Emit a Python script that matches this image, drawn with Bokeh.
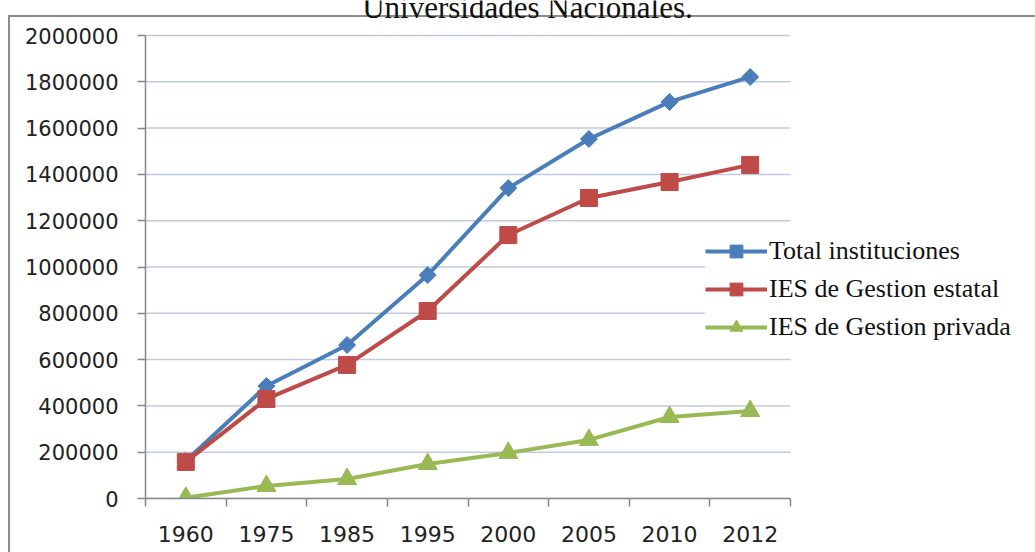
from bokeh.plotting import figure
from bokeh.models import FixedTicker, Legend, LegendItem, Range1d, Label
from bokeh.embed import file_html
from bokeh.resources import INLINE
import math

title_text = "Universidades Nacionales."
years = ["1960", "1975", "1985", "1995", "2000", "2005", "2010", "2012"]
total = [162000, 486000, 663000, 965000, 1341000, 1553000, 1713000, 1821000]
estatal = [158000, 430000, 577000, 810000, 1138000, 1298000, 1367000, 1441000]
privada = [3000, 54000, 84000, 149000, 197000, 253000, 352000, 378000]
y_ticks = [0, 200000, 400000, 600000, 800000, 1000000, 1200000, 1400000, 1600000, 1800000, 2000000]
series_names = ["Total instituciones", "IES de Gestion estatal", "IES de Gestion privada"]

# layout (pixels)
W, H = 1035, 552
left, bottom_pad = 145, 54
frame_w, frame_h = W - left, H - bottom_pad
plot_w, plot_top = 645, 35          # width of category area, top gridline position
y_max = max(y_ticks)
n = len(years)

xs = [i + 0.5 for i in range(n)]

p = figure(width=W, height=H, output_backend="svg", toolbar_location=None,
           x_range=Range1d(0, n * frame_w / plot_w),
           y_range=Range1d(0, y_max * frame_h / (frame_h - plot_top)),
           min_border_left=left, min_border_right=0, min_border_top=0, min_border_bottom=bottom_pad)
p.outline_line_color = None
p.background_fill_color = None
p.border_fill_color = None
p.styles = {
    "background-image": "linear-gradient(#8C8C8C, #8C8C8C), linear-gradient(#8C8C8C, #8C8C8C)",
    "background-size": "2px 100%, 100% 2px",
    "background-position": "8px 15px, 8px 15px",
    "background-repeat": "no-repeat",
}

# x axis
p.xaxis.bounds = (0, n)
p.xaxis.ticker = FixedTicker(ticks=xs, minor_ticks=list(range(n + 1)))
p.xaxis.major_label_overrides = {x: y for x, y in zip(xs, years)}
p.xaxis.major_tick_out = 0
p.xaxis.major_tick_in = 0
p.xaxis.minor_tick_out = 8
p.xaxis.minor_tick_in = 0
p.xaxis.minor_tick_line_color = "#868686"
p.xaxis.minor_tick_line_width = 1.5
p.xaxis.axis_line_color = "#868686"
p.xaxis.axis_line_width = 1.5
p.xaxis.major_label_text_font = "DejaVu Sans"
p.xaxis.major_label_text_font_size = "22px"
p.xaxis.major_label_text_color = "#222222"
p.xaxis.major_label_standoff = 19
p.xgrid.grid_line_color = None
p.ygrid.grid_line_color = None

# y axis
p.yaxis.bounds = (0, y_max)
p.yaxis.ticker = FixedTicker(ticks=y_ticks)
p.yaxis.major_label_overrides = {t: str(t) for t in y_ticks}
p.yaxis.major_tick_out = 8
p.yaxis.major_tick_in = 0
p.yaxis.minor_tick_line_color = None
p.yaxis.major_tick_line_color = "#868686"
p.yaxis.major_tick_line_width = 1.5
p.yaxis.axis_line_color = "#868686"
p.yaxis.axis_line_width = 1.5
p.yaxis.major_label_text_font = "DejaVu Sans"
p.yaxis.major_label_text_font_size = "21px"
p.yaxis.major_label_text_color = "#222222"
p.yaxis.major_label_standoff = 19

# horizontal gridlines limited to category area
p.segment(x0=[0] * len(y_ticks), x1=[n] * len(y_ticks), y0=y_ticks, y1=y_ticks,
          line_color="#C0CAE4", line_width=1.5, level="underlay")

blue, red, green = "#4A7EBB", "#BE4B48", "#98B954"

l1 = p.line(xs, total, line_color=blue, line_width=4)
m1 = p.scatter(xs, total, marker="square", angle=math.pi / 4, size=12, fill_color=blue, line_color=blue)
l2 = p.line(xs, estatal, line_color=red, line_width=4)
m2 = p.scatter(xs, estatal, marker="square", size=17, fill_color=red, line_color=red)
l3 = p.line(xs, privada, line_color=green, line_width=4)
m3 = p.scatter(xs, privada, marker="triangle", size=19, fill_color=green, line_color=green)

legend = Legend(items=[
    LegendItem(label=series_names[0], renderers=[l1, m1]),
    LegendItem(label=series_names[1], renderers=[l2, m2]),
    LegendItem(label=series_names[2], renderers=[l3, m3]),
], location=(560, 152))
legend.label_text_font = "Liberation Serif"
legend.label_text_font_size = "26px"
legend.label_text_color = "#111111"
legend.glyph_width = 62
legend.glyph_height = 32
legend.label_height = 38
legend.label_standoff = 2
legend.spacing = 0
legend.padding = 8
legend.margin = 0
legend.border_line_color = None
legend.background_fill_color = "white"
legend.background_fill_alpha = 1
p.add_layout(legend, "center")

title = Label(x=382, y=frame_h - 7, x_units="screen", y_units="screen", text=title_text,
              text_align="center", text_baseline="alphabetic",
              text_font="Liberation Serif", text_font_size="31px", text_color="#111111")
p.add_layout(title)

open("out.html", "w").write(file_html(p, INLINE))
